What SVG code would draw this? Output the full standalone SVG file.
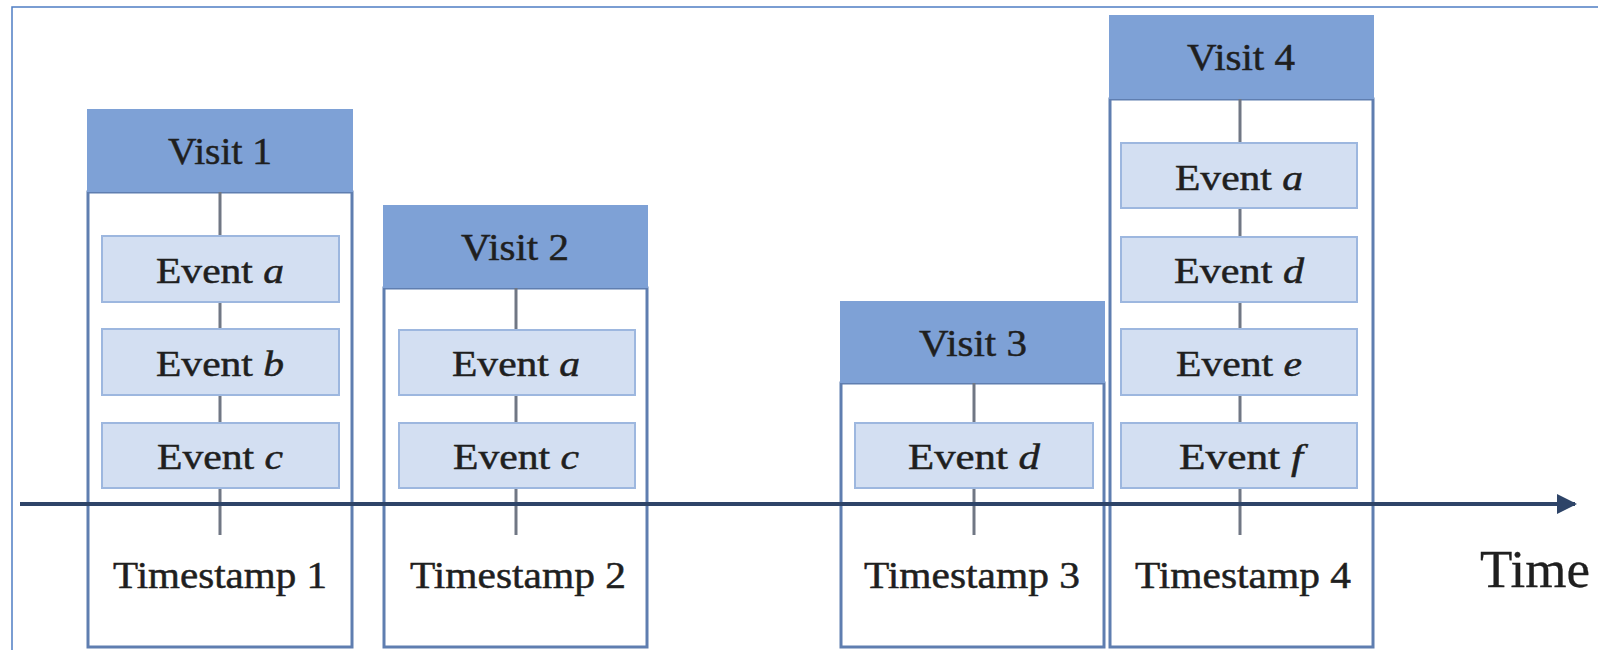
<svg xmlns="http://www.w3.org/2000/svg" width="1598" height="650" viewBox="0 0 1598 650">
<style>
.frame{fill:#ffffff;stroke:#4f7dc4;stroke-width:1.5}
.body{fill:#ffffff;stroke:#5f7eb0;stroke-width:3}
.head{fill:#7ea1d6}
.ev{fill:#d3dff2;stroke:#9db7df;stroke-width:2}
.stem{stroke:#707784;stroke-width:3}
.axis{stroke:#2e4468;stroke-width:4;fill:none}
text{font-family:"Liberation Serif","Times New Roman",serif;fill:#1f1f1f;stroke:#1f1f1f;stroke-width:0.5;text-anchor:middle}
.vt{font-size:38px}
.et{font-size:35px}
.tt{font-size:37px}
.big{font-size:52px;stroke-width:0.3}
.it{font-style:italic}
</style>
<defs>
<marker id="arr" viewBox="0 0 10 10" refX="9" refY="5" markerWidth="5.5" markerHeight="5" markerUnits="strokeWidth" orient="auto">
<path d="M0,0 L10,5 L0,10 z" fill="#2e4468"/>
</marker>
</defs>
<rect class="frame" x="12" y="7" width="1590" height="660"/>

<g id="visit1">
<rect class="body" x="88" y="192" width="264" height="455"/>
<rect class="head" x="87" y="109" width="266" height="83"/>
<text class="vt" x="220" y="164" textLength="104" lengthAdjust="spacingAndGlyphs">Visit 1</text>
<line class="stem" x1="220" y1="192" x2="220" y2="535"/>
<rect class="ev" x="102" y="236" width="237" height="66"/>
<text class="et" x="220" y="283" textLength="128" lengthAdjust="spacingAndGlyphs">Event <tspan class="it">a</tspan></text>
<rect class="ev" x="102" y="329" width="237" height="66"/>
<text class="et" x="220" y="376" textLength="128" lengthAdjust="spacingAndGlyphs">Event <tspan class="it">b</tspan></text>
<rect class="ev" x="102" y="423" width="237" height="65"/>
<text class="et" x="220" y="469" textLength="126" lengthAdjust="spacingAndGlyphs">Event <tspan class="it">c</tspan></text>
<text class="tt" x="220" y="588" textLength="214" lengthAdjust="spacingAndGlyphs">Timestamp 1</text>
</g>

<g id="visit2">
<rect class="body" x="384" y="288" width="263" height="359"/>
<rect class="head" x="383" y="205" width="265" height="83"/>
<text class="vt" x="515" y="260" textLength="108" lengthAdjust="spacingAndGlyphs">Visit 2</text>
<line class="stem" x1="516" y1="288" x2="516" y2="535"/>
<rect class="ev" x="399" y="330" width="236" height="65"/>
<text class="et" x="516" y="376" textLength="128" lengthAdjust="spacingAndGlyphs">Event <tspan class="it">a</tspan></text>
<rect class="ev" x="399" y="423" width="236" height="65"/>
<text class="et" x="516" y="469" textLength="126" lengthAdjust="spacingAndGlyphs">Event <tspan class="it">c</tspan></text>
<text class="tt" x="518" y="588" textLength="216" lengthAdjust="spacingAndGlyphs">Timestamp 2</text>
</g>

<g id="visit3">
<rect class="body" x="841" y="383" width="263" height="264"/>
<rect class="head" x="840" y="301" width="265" height="82"/>
<text class="vt" x="973" y="356" textLength="108" lengthAdjust="spacingAndGlyphs">Visit 3</text>
<line class="stem" x1="974" y1="383" x2="974" y2="535"/>
<rect class="ev" x="855" y="423" width="238" height="65"/>
<text class="et" x="974" y="469" textLength="132" lengthAdjust="spacingAndGlyphs">Event <tspan class="it">d</tspan></text>
<text class="tt" x="972" y="588" textLength="216" lengthAdjust="spacingAndGlyphs">Timestamp 3</text>
</g>

<g id="visit4">
<rect class="body" x="1110" y="99" width="263" height="548"/>
<rect class="head" x="1109" y="15" width="265" height="84"/>
<text class="vt" x="1241" y="70" textLength="108" lengthAdjust="spacingAndGlyphs">Visit 4</text>
<line class="stem" x1="1240" y1="99" x2="1240" y2="535"/>
<rect class="ev" x="1121" y="143" width="236" height="65"/>
<text class="et" x="1239" y="190" textLength="128" lengthAdjust="spacingAndGlyphs">Event <tspan class="it">a</tspan></text>
<rect class="ev" x="1121" y="237" width="236" height="65"/>
<text class="et" x="1239" y="283" textLength="130" lengthAdjust="spacingAndGlyphs">Event <tspan class="it">d</tspan></text>
<rect class="ev" x="1121" y="329" width="236" height="66"/>
<text class="et" x="1239" y="376" textLength="126" lengthAdjust="spacingAndGlyphs">Event <tspan class="it">e</tspan></text>
<rect class="ev" x="1121" y="423" width="236" height="65"/>
<text class="et" x="1241" y="469" textLength="124" lengthAdjust="spacingAndGlyphs">Event <tspan class="it">f</tspan></text>
<text class="tt" x="1243" y="588" textLength="216" lengthAdjust="spacingAndGlyphs">Timestamp 4</text>
</g>

<g id="connectors">
<line class="axis" x1="20" y1="504" x2="1575" y2="504" marker-end="url(#arr)"/>
</g>
<text class="big" x="1535" y="587" textLength="110" lengthAdjust="spacingAndGlyphs">Time</text>
</svg>
